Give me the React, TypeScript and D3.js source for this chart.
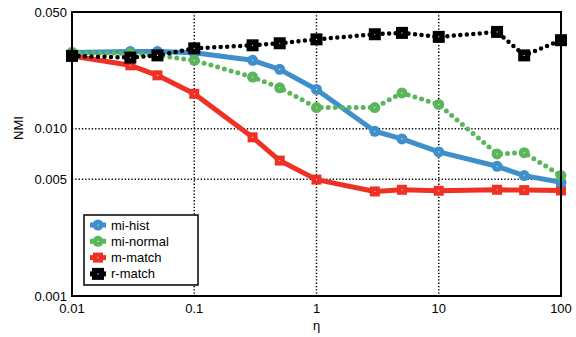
import React from "react";
import * as d3 from "d3";

const etas = [0.01, 0.03, 0.05, 0.1, 0.3, 0.5, 1, 3, 5, 10, 30, 50, 100];
const miHist = [0.0286, 0.029, 0.029, 0.0285, 0.0257, 0.0227, 0.0172, 0.00967, 0.0087, 0.00728, 0.00597, 0.00525, 0.00479];
const miNormal = [0.0286, 0.0283, 0.0275, 0.0257, 0.0204, 0.0176, 0.0134, 0.0134, 0.0164, 0.014, 0.00708, 0.0072, 0.00525];
const mMatch = [0.0273, 0.024, 0.0209, 0.0162, 0.0089, 0.00646, 0.00497, 0.00422, 0.00432, 0.00426, 0.00432, 0.0043, 0.00428];
const rMatch = [0.0273, 0.0267, 0.0275, 0.0303, 0.0316, 0.0325, 0.0343, 0.0368, 0.0375, 0.0355, 0.038, 0.0275, 0.0339];

const xTicks = [0.01, 0.1, 1, 10, 100];
const xTickLabels = ["0.01", "0.1", "1", "10", "100"];
const yTicks = [0.001, 0.005, 0.01, 0.05];
const yTickLabels = ["0.001", "0.005", "0.010", "0.050"];
const xGrid = [0.1, 1, 10];
const yGrid = [0.005, 0.01];

const seriesNames = ["mi-hist", "mi-normal", "m-match", "r-match"];
const seriesColors = ["#3f8fcb", "#5ab65a", "#ee3124", "#000000"];

const W = 576, H = 337;
const L = 72, T = 12, R = 561, B = 296;
const FONT = "'Liberation Sans', Arial, Helvetica, sans-serif";

export default function App() {
  const x = d3.scaleLog().domain([0.01, 100]).range([L, R]);
  const y = d3.scaleLog().domain([0.001, 0.05]).range([B, T]);
  const line = d3.line<number>().x((_, i) => x(etas[i])).y((d) => y(d));
  const series = [miHist, miNormal, mMatch, rMatch];

  const marker = (k: number, cx: number, cy: number, key: string) => {
    const c = seriesColors[k];
    if (k === 0) return <g key={key}><circle cx={cx} cy={cy} r={5.5} fill={c} /><circle cx={cx} cy={cy} r={0.6} fill="#fff" /></g>;
    if (k === 1) return <g key={key}><circle cx={cx} cy={cy} r={5.5} fill={c} /><circle cx={cx} cy={cy} r={0.6} fill="#fff" /></g>;
    if (k === 2) return <g key={key}><rect x={cx - 5} y={cy - 5} width={10} height={10} fill={c} /><circle cx={cx} cy={cy} r={0.6} fill="#fff" /></g>;
    return <g key={key}><rect x={cx - 6} y={cy - 6} width={12} height={12} fill={c} /><circle cx={cx} cy={cy} r={0.6} fill="#fff" /></g>;
  };

  const lineStyle = (k: number) => {
    if (k === 1) return { stroke: seriesColors[k], strokeWidth: 5, strokeDasharray: "0 7", strokeLinecap: "round" as const };
    if (k === 3) return { stroke: seriesColors[k], strokeWidth: 4.5, strokeDasharray: "0 6.5", strokeLinecap: "round" as const };
    return { stroke: seriesColors[k], strokeWidth: 5, strokeLinejoin: "round" as const };
  };

  const legendX = 84, legendY = 215, legendW = 114, legendH = 70;
  const order = [2, 0, 1, 3];

  return (
    <svg width={W} height={H} style={{ position: "absolute", left: 0, top: 0, background: "#fff" }} fontFamily={FONT}>
      <rect x={0} y={0} width={W} height={H} fill="#fff" />
      {xGrid.map((v) => (
        <line key={"gx" + v} x1={x(v)} x2={x(v)} y1={T} y2={B} stroke="#000" strokeWidth={1.5} strokeDasharray="1.3 2" />
      ))}
      {yGrid.map((v) => (
        <line key={"gy" + v} x1={L} x2={R} y1={y(v)} y2={y(v)} stroke="#000" strokeWidth={1.5} strokeDasharray="1.3 2" />
      ))}
      {order.map((k) => (
        <g key={"s" + k}>
          <path d={line(series[k]) || ""} fill="none" {...lineStyle(k)} />
          {series[k].map((v, i) => marker(k, x(etas[i]), y(v), `m${k}-${i}`))}
        </g>
      ))}
      <rect x={L} y={T} width={R - L} height={B - T} fill="none" stroke="#000" strokeWidth={2} />
      {xTicks.map((v, i) => (
        <text key={"xt" + v} x={x(v)} y={B + 17} textAnchor="middle" fontSize={13} fill="#000">{xTickLabels[i]}</text>
      ))}
      {yTicks.map((v, i) => (
        <text key={"yt" + v} x={L - 5} y={y(v) + 4.5} textAnchor="end" fontSize={13} fill="#000">{yTickLabels[i]}</text>
      ))}
      <text x={(L + R) / 2} y={330} textAnchor="middle" fontSize={13} fill="#000">η</text>
      <text transform={`translate(23,128) rotate(-90)`} textAnchor="middle" fontSize={13} fill="#000">NMI</text>
      <rect x={legendX} y={legendY} width={legendW} height={legendH} fill="#fff" stroke="#000" strokeWidth={1.5} />
      {seriesNames.map((name, k) => {
        const cy = legendY + 10 + k * 16.3;
        return (
          <g key={"lg" + k}>
            <line x1={90} x2={106} y1={cy} y2={cy} stroke={seriesColors[k]} strokeWidth={5} />
            {marker(k, 98, cy, "lm" + k)}
            <text x={111} y={cy + 4.5} fontSize={13} fill="#000">{name}</text>
          </g>
        );
      })}
    </svg>
  );
}
